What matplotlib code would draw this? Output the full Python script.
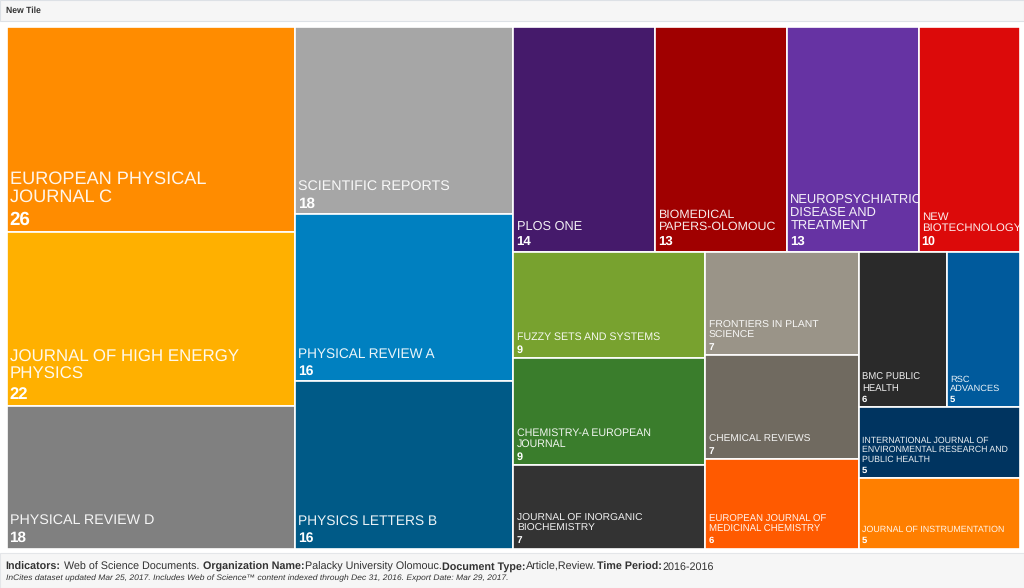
import matplotlib
matplotlib.use("Agg")
import matplotlib.pyplot as plt
from matplotlib.patches import Rectangle

journals = [
    "EUROPEAN PHYSICAL\nJOURNAL C", "JOURNAL OF HIGH ENERGY\nPHYSICS", "PHYSICAL REVIEW D",
    "SCIENTIFIC REPORTS", "PHYSICAL REVIEW A", "PHYSICS LETTERS B",
    "PLOS ONE", "BIOMEDICAL\nPAPERS-OLOMOUC", "NEUROPSYCHIATRIC\nDISEASE AND\nTREATMENT",
    "NEW\nBIOTECHNOLOGY",
    "FUZZY SETS AND SYSTEMS", "CHEMISTRY-A EUROPEAN\nJOURNAL", "JOURNAL OF INORGANIC\nBIOCHEMISTRY",
    "FRONTIERS IN PLANT\nSCIENCE", "CHEMICAL REVIEWS", "EUROPEAN JOURNAL OF\nMEDICINAL CHEMISTRY",
    "BMC PUBLIC\nHEALTH", "RSC\nADVANCES",
    "INTERNATIONAL JOURNAL OF\nENVIRONMENTAL RESEARCH AND\nPUBLIC HEALTH",
    "JOURNAL OF INSTRUMENTATION",
]
documents = [26, 22, 18, 18, 16, 16, 14, 13, 13, 10, 9, 9, 7, 7, 7, 6, 6, 5, 5, 5]
colors = [
    "#FF8C00", "#FFB000", "#808080", "#A6A6A6", "#0080C0", "#005A87",
    "#451A6B", "#A00000", "#6633A3", "#DC0A0A", "#78A22F", "#3A7D2C",
    "#333333", "#9A9488", "#706A60", "#FF5A00", "#2A2A2A", "#005A9C",
    "#003460", "#FF7F00",
]
label_sizes = [13.05, 12.15, 10.3, 10.3, 9.85, 9.9, 9.15, 8.95, 9.3, 8.2, 7.7, 7.7, 7.4, 7.5, 7.3, 6.9, 6.85, 6.65, 6.3, 6.4]
value_sizes = [13.5, 12, 11, 11, 10, 10, 9.5, 9.5, 9.5, 9, 7.8, 7.8, 7.2, 7.2, 7.2, 6.8, 6.8, 6.8, 6.8, 6.8]

# Nesting of the treemap: "c" splits into columns, "r" splits into rows.
tree = ("c", [
    ("r", [0, 1, 2]),
    ("r", [3, 4, 5]),
    ("r", [
        ("c", [6, 7, 8, 9]),
        ("c", [
            ("r", [10, 11, 12]),
            ("r", [13, 14, 15]),
            ("r", [("c", [16, 17]), 18, 19]),
        ]),
    ]),
])


def weight(node):
    if isinstance(node, int):
        return documents[node]
    return sum(weight(child) for child in node[1])


def layout(node, x, y, w, h, out):
    if isinstance(node, int):
        out[node] = (x, y, w, h)
        return
    kind, children = node
    total = weight(node)
    for child in children:
        share = weight(child) / total
        if kind == "c":
            layout(child, x, y, w * share, h, out)
            x += w * share
        else:
            layout(child, x, y, w, h * share, out)
            y += h * share


W, H = 1024, 588
plt.rcParams["font.family"] = "Liberation Sans"
plt.rcParams["text.hinting"] = "no_hinting"
fig = plt.figure(figsize=(W / 100, H / 100), dpi=100, facecolor="white")
PX = 0.72

# Page chrome
fig.add_artist(Rectangle((0, 1 - 20.5 / H), 1, 20 / H, transform=fig.transFigure, fc="#F6F6F6", ec="#DDE1E6", lw=0.8))
fig.add_artist(Rectangle((0, 0), 1, 35 / H, transform=fig.transFigure, fc="#F6F6F6", ec="#E4E6E9", lw=0.8))
fig.text(5.5 / W, 1 - 11 / H, "New Tile", fontsize=6.2, fontweight="bold", color="#333333", va="center")

ax = fig.add_axes([6.5 / W, 1 - 548.5 / H, 1013.5 / W, 522 / H])
ax.set_xlim(0, 1)
ax.set_ylim(1, 0)
ax.axis("off")

cells = {}
layout(tree, 0, 0, 1, 1, cells)

for i, name in enumerate(journals):
    x, y, w, h = cells[i]
    rect = Rectangle((x, y), w, h, fc=colors[i], ec="white", lw=1.2)
    ax.add_patch(rect)
    vs = value_sizes[i]
    ax.annotate(str(documents[i]), (x, y + h), xytext=(3 * PX, 3.5 * PX), textcoords="offset points",
                fontsize=vs, fontweight="bold", color="white", va="bottom", ha="left")
    lab = ax.annotate(name, (x, y + h), xytext=(3.5 * PX, 2.2 * PX + vs * 1.3), textcoords="offset points",
                      fontsize=label_sizes[i], color="white", alpha=0.92, va="bottom", ha="left",
                      linespacing=1.12, annotation_clip=False)
    lab.set_clip_path(rect)

# Footer: mixed weight line, each run placed after the previous one
runs = [("Indicators:", "bold"), ("Web of Science Documents.", "normal"), ("Organization Name:", "bold"),
        ("Palacky University Olomouc.", "normal"), ("Document Type:", "bold"), ("Article,Review.", "normal"),
        ("Time Period:", "bold"), ("2016-2016", "normal")]
gaps = [3, 3, 0, 0, 0, 0, 0, 0]
renderer = fig.canvas.get_renderer()
cursor = 5.5
for (text, weight_name), gap in zip(runs, gaps):
    t = fig.text(cursor / W, 1 - 570 / H, text, fontsize=7.75, fontweight=weight_name, color="#333333", va="baseline")
    cursor = t.get_window_extent(renderer).x1 + gap + 0.5
fig.text(5.5 / W, 1 - 580.5 / H,
         "InCites dataset updated Mar 25, 2017. Includes Web of Science\u2122 content indexed through Dec 31, 2016. Export Date: Mar 29, 2017.",
         fontsize=6.12, style="italic", color="#333333", va="baseline")

fig.savefig("out.png", dpi=100, facecolor="white")
